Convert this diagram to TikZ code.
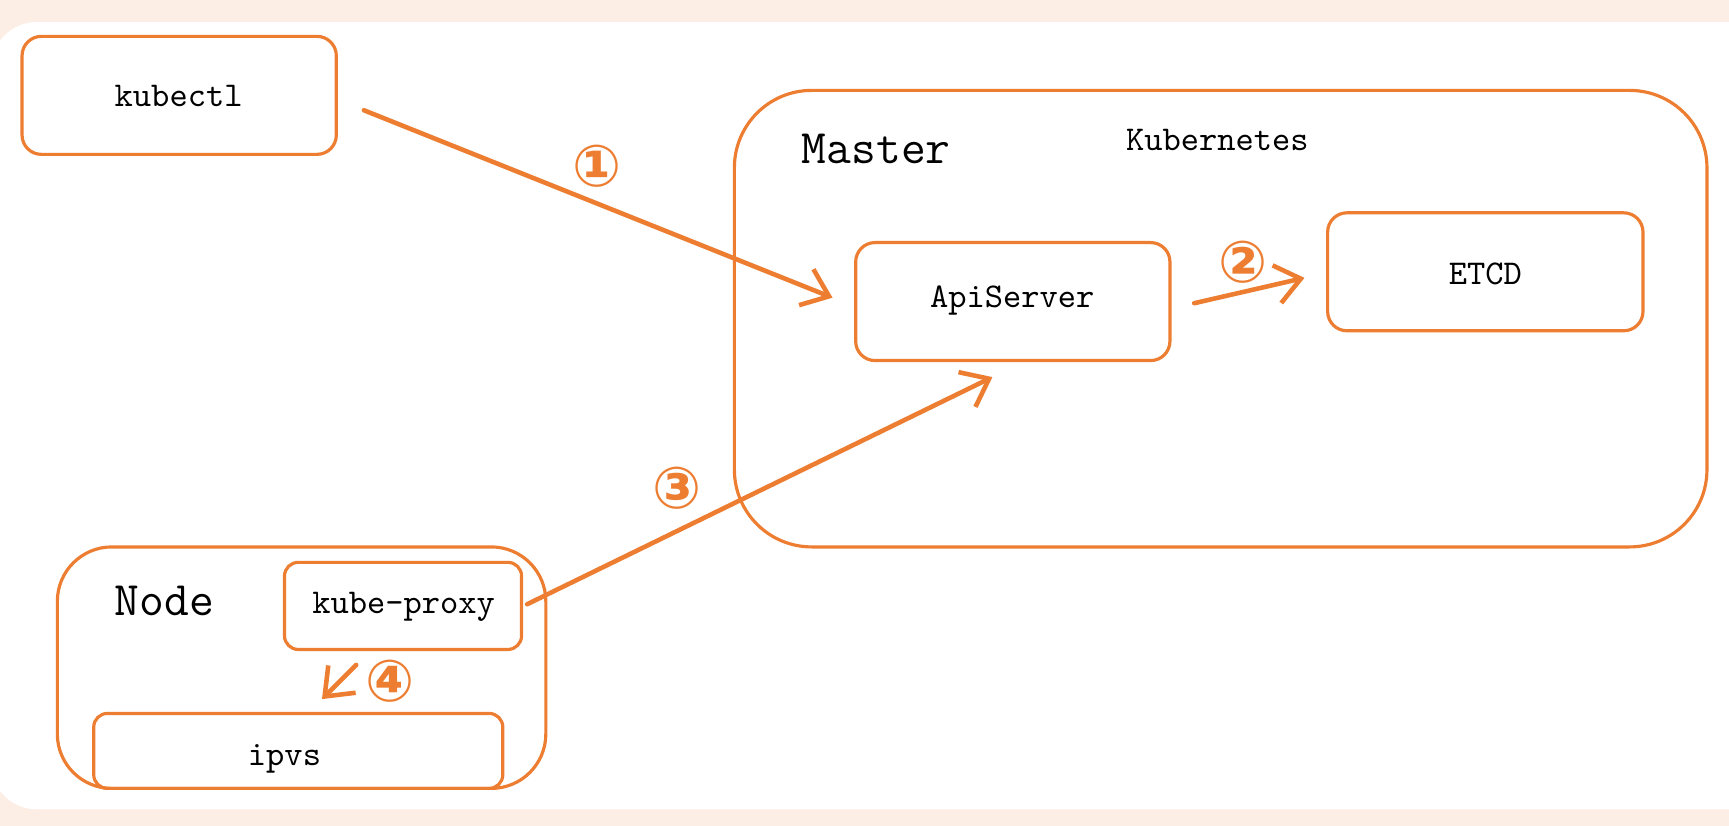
\documentclass[tikz,border=0pt]{standalone}
\usepackage{fontspec}
\usetikzlibrary{arrows.meta}
\newfontfamily\circfont{DejaVu Sans Bold}
\definecolor{korange}{HTML}{ED7D31}
\definecolor{peachbg}{RGB}{253,238,229}
\tikzset{
  box/.style={draw=korange, line width=0.9pt, rounded corners=5.5pt},
  boxtext/.style={font=\ttfamily\fontsize{9.9}{11}\selectfont, text=black},
  bigtext/.style={font=\ttfamily\fontsize{13.7}{16}\selectfont, text=black, anchor=west},
  flow/.style={draw=korange, line width=1.3pt, line cap=round,
    -{Straight Barb[length=7pt,width=11pt,line width=1.3pt]}},
  num/.style={font=\circfont\fontsize{16.5}{16.5}\selectfont, text=korange, inner sep=0pt}
}
\begin{document}
\begin{tikzpicture}[x=0.0110268cm,y=-0.0110268cm]
\useasboundingbox (0,0) rectangle (1568,749);
\fill[peachbg] (0,0) rectangle (1568,749);
\begin{scope}
\clip (0,0) rectangle (1568,749);
\fill[white, rounded corners=13pt] (-8,20) rectangle (1640,734);
\end{scope}

% boxes
\draw[box] (20,33) rectangle (305,140);
\node[boxtext] (kubectl) at (162,87) {kubectl};
\coordinate (kubectlE) at (330,100);

\draw[box, rounded corners=22pt] (666,82) rectangle (1548,496);
\node[bigtext] (master) at (716,135) {Master};
\node[boxtext] (k8s) at (1104,127) {Kubernetes};

\draw[box] (776,220) rectangle (1061,327);
\node[boxtext] (api) at (918,273) {ApiServer};
\coordinate (apiW) at (755,270);
\coordinate (apiE) at (1083,275);
\coordinate (apiS) at (900,342);

\draw[box] (1204,193) rectangle (1490,300);
\node[boxtext] (etcd) at (1347,248) {ETCD};
\coordinate (etcdW) at (1183,252);

\draw[box, rounded corners=15.5pt] (52,496) rectangle (495,715);
\node[bigtext] (node) at (93,545) {Node};

\draw[box, rounded corners=3.9pt] (258,510) rectangle (473,589);
\node[boxtext] (proxy) at (366,550) {kube-proxy};
\coordinate (proxyE) at (478,548);
\coordinate (proxyS) at (323,603);

\draw[box, rounded corners=3.9pt] (85,647) rectangle (456,715);
\node[boxtext] (ipvs) at (258,688) {ipvs};
\coordinate (ipvsN) at (292,634);

% connectors
\draw[flow] (kubectlE) -- (apiW);
\draw[flow] (apiE) -- (etcdW);
\draw[flow] (proxyE) -- (apiS);
\draw[flow] (proxyS) -- (ipvsN);

% step numbers
\node[num] (n1) at (541,151) {①};
\node[num] (n2) at (1127,238) {②};
\node[num] (n3) at (614,443) {③};
\node[num] (n4) at (354,618) {④};
\end{tikzpicture}
\end{document}
